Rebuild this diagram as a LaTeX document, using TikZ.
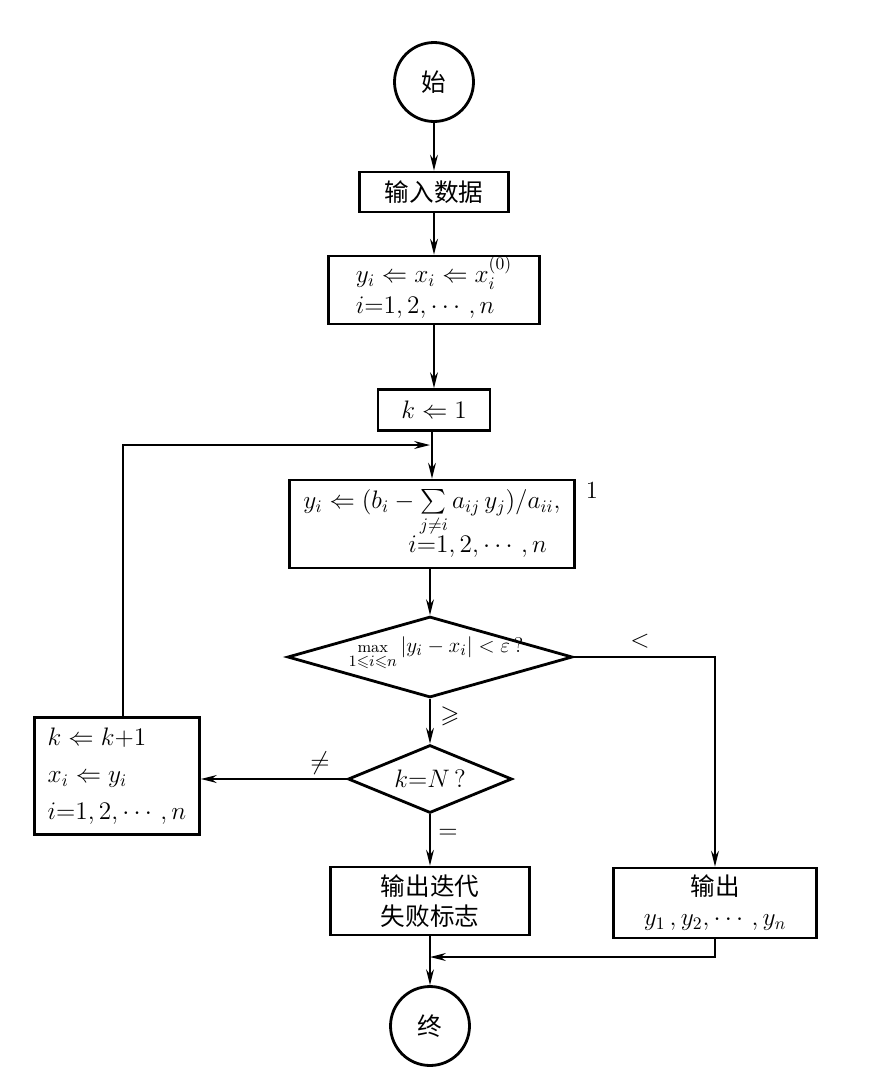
\documentclass[tikz,border=0pt]{standalone}
\usepackage{amsmath,amssymb}
\usepackage{fontspec}
\newfontfamily\cjk{Noto Sans CJK SC}
\usetikzlibrary{shapes.geometric,arrows.meta}
\begin{document}
\begin{tikzpicture}[x=0.02cm,y=-0.02cm,
  font=\fontsize{14}{19}\selectfont,
  box/.style={draw,line width=1.6pt,rectangle,inner sep=0pt,align=center},
  term/.style={draw,line width=1.6pt,circle,minimum size=1.58cm,inner sep=0pt},
  cond/.style={draw,line width=1.6pt,diamond,inner sep=0pt},
  conn/.style={line width=1pt,-{Stealth[length=9pt,width=4.5pt]}},
  lab/.style={inner sep=1pt}]
\useasboundingbox (0,0) rectangle (879,1072);
\node[term] (start) at (434,82) {\cjk 始};
\node[box,minimum width=2.98cm,minimum height=0.8cm] (in) at (434,192) {\cjk 输入数据};
\node[box,minimum width=4.22cm,minimum height=1.16cm] (init) at (434,290)
  {\begin{tabular}{@{}l@{}}$y_i \Leftarrow x_i \Leftarrow x_i^{(0)}$\\[-1pt] $i{=}1,2,\cdots,n$\end{tabular}};
\node[box,minimum width=2.24cm,minimum height=0.82cm] (k1) at (434,410) {$k \Leftarrow 1$};
\node[box,minimum width=5.7cm,minimum height=1.76cm] (iter) at (432,524)
  {\begin{tabular}{@{}l@{}}$y_i \Leftarrow (b_i - \sum\limits_{j\neq i} a_{ij}\,y_j)/a_{ii},$\\[-4pt]\hspace*{2.1cm}$i{=}1,2,\cdots,n$\end{tabular}};
\node[lab] (one) at (592,490) {1};
\node[cond,minimum width=5.7cm,minimum height=1.62cm] (d1) at (430,657) {};
\node[inner sep=0pt,font=\fontsize{13}{16}\selectfont] (d1t) at (436,654) {$\mathop{\scriptstyle\max}\limits_{1\leqslant i\leqslant n}|y_i - x_i| < \varepsilon\,?$};
\node[cond,minimum width=3.28cm,minimum height=1.36cm] (d2) at (430,779) {};
\node[inner sep=0pt] (d2t) at (d2.center) {$k{=}N\,?$};
\node[box,minimum width=3.3cm,minimum height=2.34cm] (upd) at (117,776)
  {\begin{tabular}{@{}l@{}}$k \Leftarrow k{+}1$\\[2pt] $x_i \Leftarrow y_i$\\[2pt] $i{=}1,2,\cdots,n$\end{tabular}};
\node[box,minimum width=3.98cm,minimum height=1.36cm] (fail) at (430,901)
  {\cjk 输出迭代\\[-2pt]\cjk 失败标志};
\node[box,minimum width=4.06cm,minimum height=1.4cm] (out) at (715,903)
  {\cjk 输出\\[-2pt]$y_1\,,y_2,\cdots,y_n$};
\node[term] (end) at (430,1026) {\cjk 终};
\coordinate (j1) at (430,445);
\coordinate (j2) at (430,957);
\coordinate (c1) at (123,445);
\coordinate (c2) at (715,657);
\coordinate (c3) at (715,957);
\draw[conn] (start) -- (in);
\draw[conn] (in) -- (init);
\draw[conn] (init.south -| k1) -- (k1);
\draw[conn] (k1.south -| iter) -- (iter.north);
\draw[conn] (upd.north -| c1) -- (c1) -- (j1);
\draw[conn] (iter.south -| d1) -- (d1.north);
\draw[conn] (d1.east) -- (c2) -- (out.north);
\draw[conn] (d1.south) -- (d2.north);
\draw[conn] (d2.west) -- (d2.west -| upd.east);
\draw[conn] (d2.south) -- (fail);
\draw[conn] (fail) -- (end);
\draw[conn] (out.south) -- (c3) -- (j2);
\node[lab] at (640,641) {$<$};
\node[lab] at (450,716) {$\geqslant$};
\node[lab] at (320,763) {$\neq$};
\node[lab] at (448,834) {$=$};
\end{tikzpicture}
\end{document}
